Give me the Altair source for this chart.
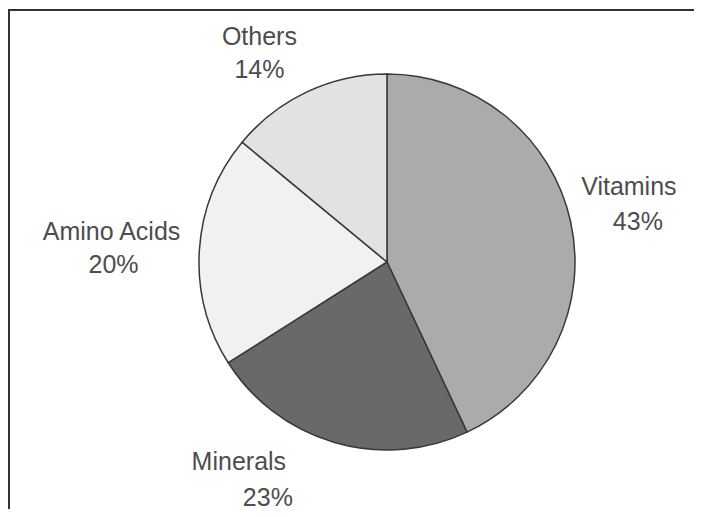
import altair as alt
import pandas as pd

categories = ["Vitamins", "Minerals", "Amino Acids", "Others"]
shares = [43, 23, 20, 14]
pct_labels = ["43%", "23%", "20%", "14%"]
colors = ["#ababab", "#696969", "#f1f1f1", "#e2e2e2"]

df = pd.DataFrame({
    "category": categories,
    "share": shares,
    "pct": pct_labels,
    "order": list(range(len(categories))),
})

# layout (plot area + padding so the pie centre sits where the reference has it)
W, H = 500, 480
PL, PT = 129, 14
PR, PB = 686 - W - PL, 501 - H - PT

OUTER = 188
LABEL_R = 255
FONT = "Liberation Sans"
FS = 25
TXT = "#4d4d4d"

# per-label nudges (name line, percent line)
nudges = {
    "Vitamins": ((-7, -19), (2, 16)),
    "Minerals": ((-77, -45), (-48, -9)),
    "Amino Acids": ((-21, -14), (-19, 19)),
    "Others": ((-19, 6), (-19, 39)),
}

theta = alt.Theta("share:Q", stack=True)
order = alt.Order("order:Q", sort="ascending")
color = alt.Color("category:N", scale=alt.Scale(domain=categories, range=colors), legend=None)

base = alt.Chart(df).encode(theta=theta, order=order)

pie = base.mark_arc(outerRadius=OUTER, stroke="#383838", strokeWidth=1.5).encode(color=color)

layers = [pie]
for cat in categories:
    (ndx, ndy), (pdx, pdy) = nudges[cat]
    for field, dx, dy in (("category", ndx, ndy), ("pct", pdx, pdy)):
        layers.append(
            base.transform_calculate(
                lbl=f"datum.category === '{cat}' ? datum.{field} : ''"
            ).mark_text(
                radius=LABEL_R, dx=dx, dy=dy, font=FONT, fontSize=FS, color=TXT,
                align="center", baseline="middle",
            ).encode(text="lbl:N")
        )

frame_src = alt.Chart(pd.DataFrame({"a": [0]}))
top_line = frame_src.mark_rule(color="#333333", strokeWidth=2).encode(
    x=alt.value(-PL), x2=alt.value(W + PR), y=alt.value(2 - PT)
)
left_line = frame_src.mark_rule(color="#333333", strokeWidth=2).encode(
    x=alt.value(1 - PL), y=alt.value(1 - PT), y2=alt.value(H + PB)
)
layers += [top_line, left_line]

chart = alt.layer(*layers).properties(
    width=W,
    height=H,
    padding={"left": PL, "top": PT, "right": PR, "bottom": PB},
    autosize=alt.AutoSizeParams(type="none"),
    background="white",
).configure_view(stroke=None)

chart.save("out.html", embed_options={"renderer": "svg", "actions": False})
